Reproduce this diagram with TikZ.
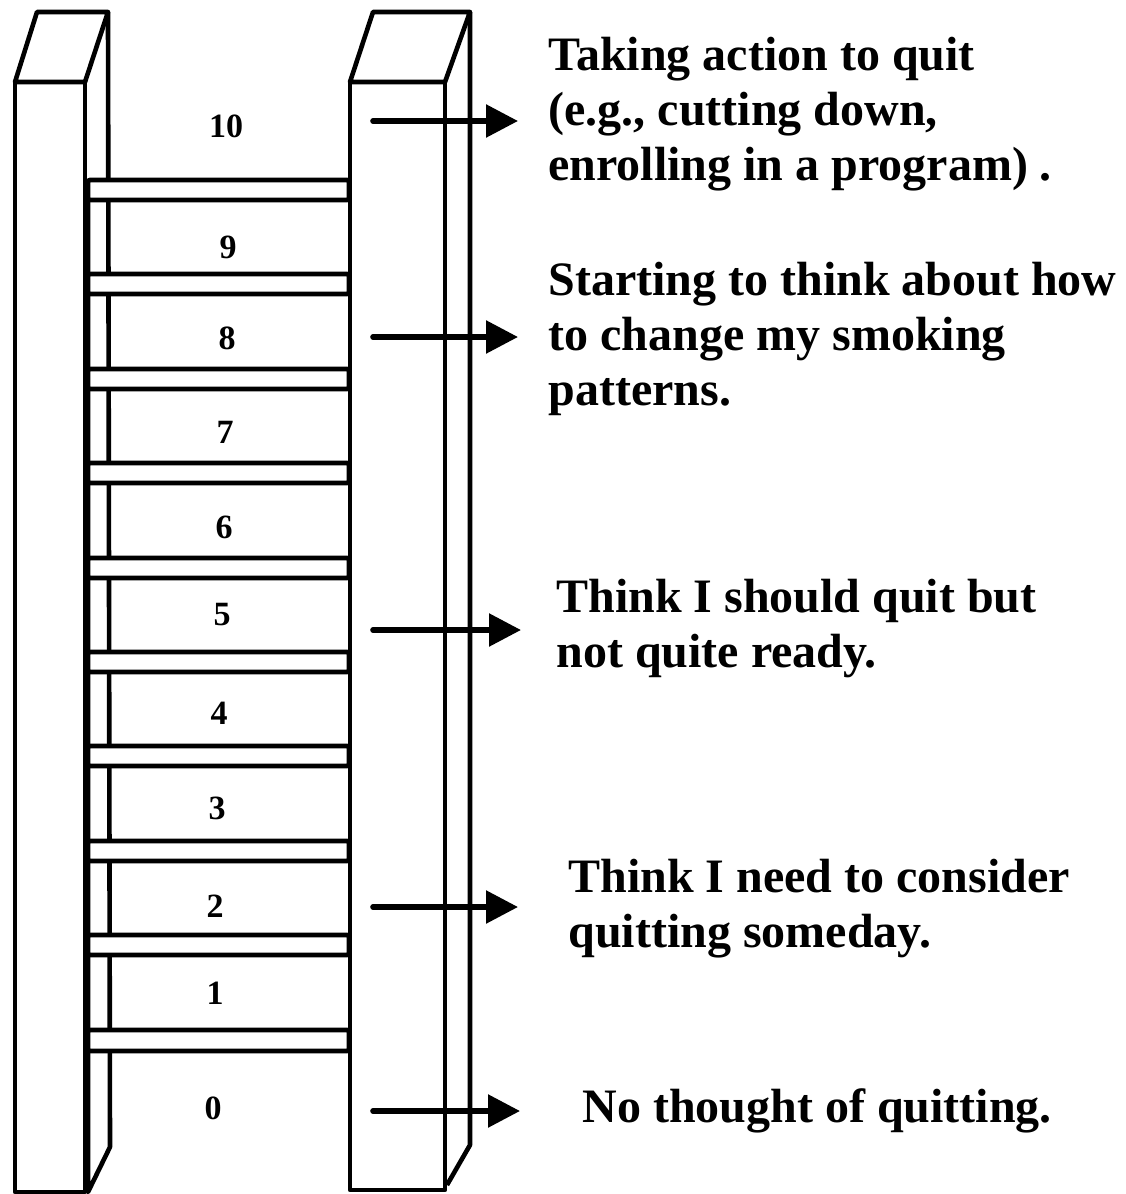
\documentclass[tikz,border=0pt]{standalone}
\usepackage{fontspec}
\setmainfont{Liberation Serif}
\usetikzlibrary{arrows.meta, positioning}

\begin{document}
\begin{tikzpicture}[
    x=0.5pt, y=-0.5pt,
    >={Triangle[length=16pt, width=16pt]},
    rail/.style={draw, line width=2.3pt, line join=round},
    rung/.style={draw, fill=white, line width=2.3pt, rounded corners=1pt},
    num/.style={font=\fontsize{17}{17}\selectfont\bfseries, inner sep=0pt},
    stage/.style={font=\fontsize{24}{27.5}\selectfont\bfseries, align=left,
                  anchor=base west, inner sep=0pt},
    pointer/.style={->, line width=2.8pt, line cap=round},
]
    \useasboundingbox (0,0) rectangle (1125,1194);

    % Left rail
    \draw[rail] (15,82) rectangle (85,1192);
    \draw[rail] (15,82) -- (37,12) -- (108,12) -- (85,82) -- cycle;
    \draw[rail] (108,12) -- (110,1147) -- (88,1192) -- (88,190);

    % Rungs
    \draw[rung] (88,180) rectangle (349,200);
    \draw[rung] (88,274) rectangle (349,294);
    \draw[rung] (88,369) rectangle (349,389);
    \draw[rung] (88,463) rectangle (349,483);
    \draw[rung] (88,558) rectangle (349,578);
    \draw[rung] (88,652) rectangle (349,672);
    \draw[rung] (88,746) rectangle (349,766);
    \draw[rung] (88,841) rectangle (349,861);
    \draw[rung] (88,935) rectangle (349,955);
    \draw[rung] (88,1030) rectangle (349,1051);

    % Right rail
    \draw[rail] (350,82) rectangle (445,1190);
    \draw[rail] (350,82) -- (373,12) -- (470,12) -- (445,82) -- cycle;
    \draw[rail] (470,12) -- (470,1145) -- (447,1185);

    % Rung numbers
    \node[num] (n10) at (226,126) {10};
    \node[num] (n9)  at (228,247) {9};
    \node[num] (n8)  at (227,338) {8};
    \node[num] (n7)  at (225,432) {7};
    \node[num] (n6)  at (224,527) {6};
    \node[num] (n5)  at (222,615) {5};
    \node[num] (n4)  at (219,713) {4};
    \node[num] (n3)  at (217,808) {3};
    \node[num] (n2)  at (215,906) {2};
    \node[num] (n1)  at (215,993) {1};
    \node[num] (n0)  at (213,1108) {0};

    % Pointers
    \coordinate (p10) at (373,121);  \coordinate (q10) at (518,121);
    \coordinate (p8)  at (373,337);  \coordinate (q8)  at (518,337);
    \coordinate (p5)  at (373,630);  \coordinate (q5)  at (521,630);
    \coordinate (p2)  at (373,907);  \coordinate (q2)  at (518,907);
    \coordinate (p0)  at (373,1111); \coordinate (q0)  at (520,1111);
    \draw[pointer] (p10) -- (q10);
    \draw[pointer] (p8) -- (q8);
    \draw[pointer] (p5) -- (q5);
    \draw[pointer] (p2) -- (q2);
    \draw[pointer] (p0) -- (q0);

    % Stage texts (anchored at the last baseline)
    \node[stage] (s10) at (548,180)  {Taking action to quit\\(e.g., cutting down,\\enrolling in a program) .};
    \node[stage] (s8)  at (548,405)  {Starting to think about how\\to change my smoking\\patterns.};
    \node[stage] (s5)  at (556,667)  {Think I should quit but\\not quite ready.};
    \node[stage] (s2)  at (568,947)  {Think I need to consider\\quitting someday.};
    \node[stage] (s0)  at (582,1122) {No thought of quitting.};
\end{tikzpicture}
\end{document}
